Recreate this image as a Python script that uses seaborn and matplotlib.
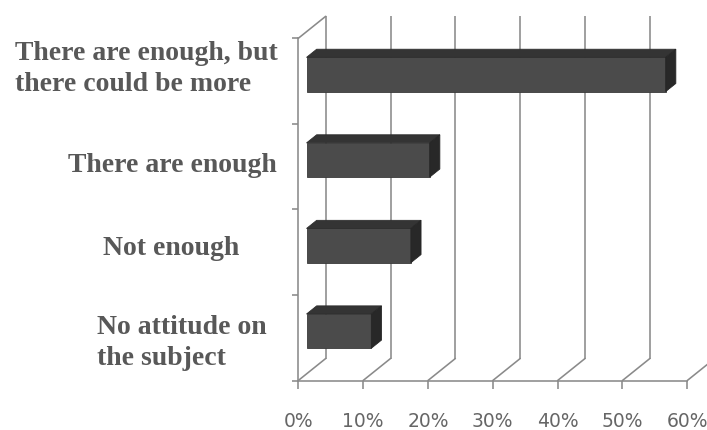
import matplotlib
matplotlib.use("Agg")
import matplotlib.pyplot as plt
import matplotlib.transforms as mtransforms
from matplotlib.patches import Polygon
import numpy as np
import pandas as pd
import seaborn as sns

# Survey answers and their shares (%)
categories = [
    "There are enough, but\nthere could be more",
    "There are enough",
    "Not enough",
    "No attitude on\nthe subject",
]
shares = [55.4, 19.0, 16.1, 10.0]
x_ticks = [0, 10, 20, 30, 40, 50, 60]
x_tick_labels = ["0%", "10%", "20%", "30%", "40%", "50%", "60%"]

W, H, DPI = 707, 430, 100
sns.set_theme(style="white")
plt.rcParams["font.family"] = ["DejaVu Sans"]

fig = plt.figure(figsize=(W / DPI, H / DPI), dpi=DPI)
fig.patch.set_facecolor("white")

# The axes box is the front plane of the pseudo-3D chart box
ax_left, ax_right, ax_top, ax_bottom = 298.3, 687.3, 38.3, 380.5
ax = fig.add_axes([ax_left / W, (H - ax_bottom) / H,
                   (ax_right - ax_left) / W, (ax_bottom - ax_top) / H])
ax.set_facecolor("none")

df = pd.DataFrame({"category": categories, "share": shares})
sns.barplot(data=df, x="share", y="category", order=categories,
            orient="h", color="#4b4b4b", saturation=1, width=0.4,
            edgecolor="#3a3a3a", linewidth=0.6, ax=ax, zorder=3)

ax.set_xlim(0, 60)
ax.set_ylim(3.5, -0.5)

# depth vector of the box, expressed in data units
px_per_x = (ax_right - ax_left) / 60.0
px_per_y = (ax_bottom - ax_top) / 4.0
DX = 27.4 / px_per_x
DY = -22.0 / px_per_y

grid_col = "#8a8a8a"
grid_lw = 1.15

# back wall grid lines and floor diagonals
for t in x_ticks:
    ax.plot([t + DX, t + DX], [3.5 + DY, -0.5 + DY], color=grid_col,
            lw=grid_lw, clip_on=False, zorder=1, solid_capstyle="butt")
    ax.plot([t, t + DX], [3.5, 3.5 + DY], color=grid_col,
            lw=grid_lw, clip_on=False, zorder=1)
# top edge of the left wall
ax.plot([0, DX], [-0.5, -0.5 + DY], color=grid_col, lw=grid_lw,
        clip_on=False, zorder=1)

# give each bar its depth: shift the front face and add top and side faces
f0, depth = 0.3, 0.37
for p in list(ax.patches):
    x0, y0 = p.get_x(), p.get_y()
    w, h = p.get_width(), p.get_height()
    xa, ya = x0 + f0 * DX, y0 + f0 * DY
    p.set_x(xa)
    p.set_y(ya)
    p.set_clip_on(False)
    ddx, ddy = depth * DX, depth * DY
    top = Polygon([(xa, ya), (xa + w, ya), (xa + w + ddx, ya + ddy),
                   (xa + ddx, ya + ddy)], closed=True,
                  facecolor="#343434", edgecolor="#2e2e2e", lw=0.6,
                  clip_on=False, zorder=3)
    side = Polygon([(xa + w, ya), (xa + w + ddx, ya + ddy),
                    (xa + w + ddx, ya + h + ddy), (xa + w, ya + h)],
                   closed=True, facecolor="#282828", edgecolor="#262626",
                   lw=0.6, clip_on=False, zorder=3)
    ax.add_patch(top)
    ax.add_patch(side)

# front spines and ticks
for s in ["top", "right"]:
    ax.spines[s].set_visible(False)
for s in ["left", "bottom"]:
    ax.spines[s].set_color(grid_col)
    ax.spines[s].set_linewidth(grid_lw)
    ax.spines[s].set_zorder(2)

ax.set_xticks(x_ticks)
ax.set_xticklabels(x_tick_labels)
ax.set_yticks([-0.5, 0.5, 1.5, 2.5, 3.5])
ax.set_yticklabels([])
ax.tick_params(axis="x", direction="out", length=6, width=grid_lw,
               color=grid_col, labelcolor="#666666", labelsize=13.5, pad=16.5,
               bottom=True)
ax.tick_params(axis="y", direction="out", length=4.5, width=grid_lw,
               color=grid_col, left=True)
ax.set_xlabel("")
ax.set_ylabel("")
ax.grid(False)

# category labels, bold serif to the left of the box
label_x_px = [15, 68, 103, 97]
label_y = [-0.14, 0.99, 1.96, 3.06]
blend = mtransforms.blended_transform_factory(fig.transFigure, ax.transData)
for text, lx, ly in zip(categories, label_x_px, label_y):
    ax.text(lx / W, ly, text, transform=blend, ha="left", va="center",
            multialignment="left", fontsize=20, fontweight="bold",
            family=["Liberation Serif", "DejaVu Serif"], color="#585858",
            linespacing=1.32, clip_on=False)

fig.savefig("out.png", dpi=DPI, facecolor="white")
